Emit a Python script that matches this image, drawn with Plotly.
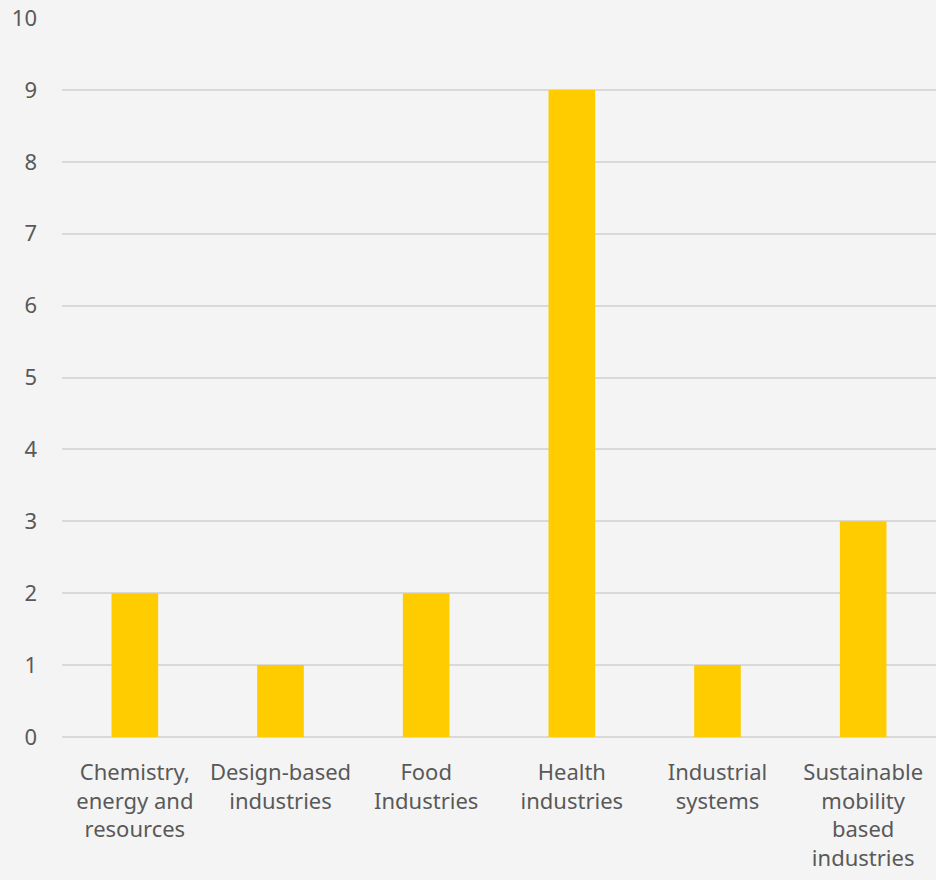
import plotly.graph_objects as go

categories = [
    "Chemistry,<br>energy and<br>resources",
    "Design-based<br>industries",
    "Food<br>Industries",
    "Health<br>industries",
    "Industrial<br>systems",
    "Sustainable<br>mobility<br>based<br>industries",
]
values = [2, 1, 2, 9, 1, 3]
y_ticks = list(range(0, 11))

fig = go.Figure(
    go.Bar(x=categories, y=values, marker=dict(color="#FFCC00", line=dict(width=0)), width=0.32)
)

fig.update_layout(
    width=936, height=880,
    margin=dict(l=62, r=0, t=18, b=143),
    paper_bgcolor="#F4F4F4", plot_bgcolor="#F4F4F4",
    font=dict(family="Noto Sans, Open Sans, sans-serif", size=22, color="#595959"),
    showlegend=False,
)
fig.update_xaxes(showgrid=False, showline=False, ticks="", ticklabelstandoff=20, tickangle=0)
fig.update_yaxes(range=[0, 10], tickvals=y_ticks, showgrid=True, gridcolor="#D9D9D9", gridwidth=2,
                 zeroline=True, zerolinecolor="#D9D9D9", zerolinewidth=2,
                 ticks="", ticklabelstandoff=24)

fig.write_html("out.html", config={"displayModeBar": False},
               post_script="document.body.style.margin='0';document.body.style.background='#F4F4F4';")
